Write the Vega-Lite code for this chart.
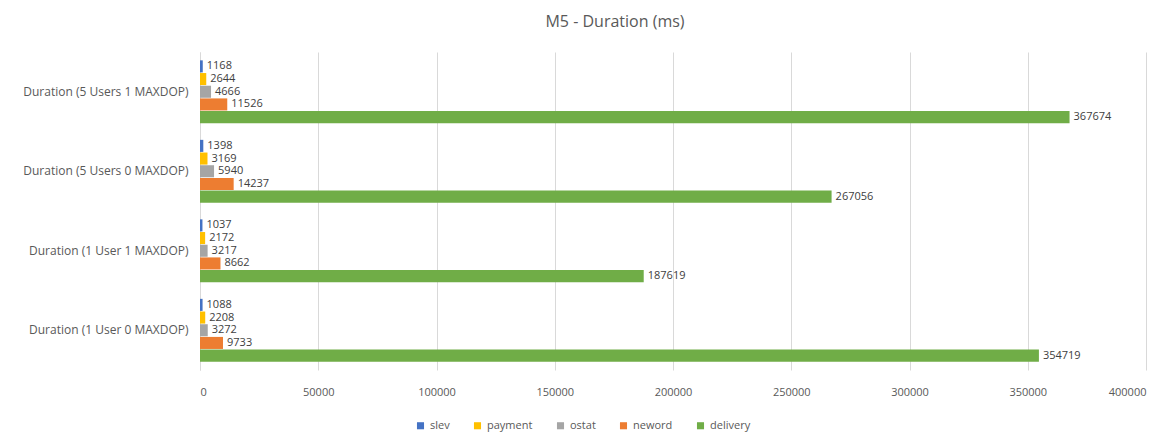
{
  "$schema": "https://vega.github.io/schema/vega-lite/v6.json",
  "width": 946,
  "height": 318,
  "autosize": {"type": "none"},
  "padding": {"left": 200, "top": 52, "right": 22, "bottom": 68},
  "title": {"text": "M5 - Duration (ms)", "fontSize": 16, "font": "Open Sans", "fontWeight": "normal", "color": "#595959", "anchor": "middle", "dx": -58, "offset": 22},
  "config": {"view": {"stroke": null}, "font": "Open Sans"},
  "data": {"values": [
    {"cat": "Duration (5 Users 1 MAXDOP)", "series": "slev", "value": 1168},
    {"cat": "Duration (5 Users 1 MAXDOP)", "series": "payment", "value": 2644},
    {"cat": "Duration (5 Users 1 MAXDOP)", "series": "ostat", "value": 4666},
    {"cat": "Duration (5 Users 1 MAXDOP)", "series": "neword", "value": 11526},
    {"cat": "Duration (5 Users 1 MAXDOP)", "series": "delivery", "value": 367674},
    {"cat": "Duration (5 Users 0 MAXDOP)", "series": "slev", "value": 1398},
    {"cat": "Duration (5 Users 0 MAXDOP)", "series": "payment", "value": 3169},
    {"cat": "Duration (5 Users 0 MAXDOP)", "series": "ostat", "value": 5940},
    {"cat": "Duration (5 Users 0 MAXDOP)", "series": "neword", "value": 14237},
    {"cat": "Duration (5 Users 0 MAXDOP)", "series": "delivery", "value": 267056},
    {"cat": "Duration (1 User 1 MAXDOP)", "series": "slev", "value": 1037},
    {"cat": "Duration (1 User 1 MAXDOP)", "series": "payment", "value": 2172},
    {"cat": "Duration (1 User 1 MAXDOP)", "series": "ostat", "value": 3217},
    {"cat": "Duration (1 User 1 MAXDOP)", "series": "neword", "value": 8662},
    {"cat": "Duration (1 User 1 MAXDOP)", "series": "delivery", "value": 187619},
    {"cat": "Duration (1 User 0 MAXDOP)", "series": "slev", "value": 1088},
    {"cat": "Duration (1 User 0 MAXDOP)", "series": "payment", "value": 2208},
    {"cat": "Duration (1 User 0 MAXDOP)", "series": "ostat", "value": 3272},
    {"cat": "Duration (1 User 0 MAXDOP)", "series": "neword", "value": 9733},
    {"cat": "Duration (1 User 0 MAXDOP)", "series": "delivery", "value": 354719}
  ]},
  "encoding": {
    "y": {"field": "cat", "type": "nominal", "sort": null, "title": null,
      "scale": {"paddingInner": 0.21, "paddingOuter": 0.105},
      "axis": {"labelFontSize": 12, "labelColor": "#595959", "ticks": false, "domain": true, "domainColor": "#D9D9D9", "labelPadding": 12, "labelLimit": 220}},
    "yOffset": {"field": "series", "type": "nominal", "sort": ["slev", "payment", "ostat", "neword", "delivery"], "scale": {"paddingInner": 0.05}},
    "x": {"field": "value", "type": "quantitative", "title": null,
      "scale": {"domain": [0, 400000]},
      "axis": {"values": [0, 50000, 100000, 150000, 200000, 250000, 300000, 350000, 400000], "format": "d", "labelFontSize": 11, "labelColor": "#595959", "ticks": false, "domain": false, "gridColor": "#D9D9D9", "labelPadding": 16}}
  },
  "layer": [
    {"mark": {"type": "bar"},
     "encoding": {"color": {"field": "series", "type": "nominal", "sort": ["slev", "payment", "ostat", "neword", "delivery"],
       "scale": {"domain": ["slev", "payment", "ostat", "neword", "delivery"], "range": ["#4472C4", "#FFC000", "#A5A5A5", "#ED7D31", "#70AD47"]},
       "legend": {"title": null, "orient": "none", "legendX": 215, "legendY": 368, "direction": "horizontal", "symbolType": "square", "symbolSize": 50, "labelFontSize": 11, "labelColor": "#595959", "columnPadding": 22}}}},
    {"mark": {"type": "text", "align": "left", "dx": 4, "fontSize": 11, "color": "#404040"},
     "encoding": {"text": {"field": "value", "type": "quantitative", "format": "d"}}}
  ]
}
